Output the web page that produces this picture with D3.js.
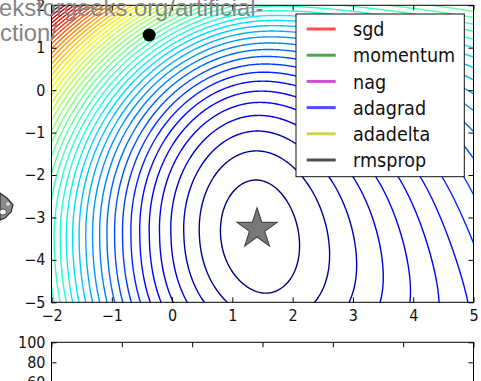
<!DOCTYPE html>
<html>
<head>
<meta charset="utf-8">
<script src="https://cdn.jsdelivr.net/npm/d3@7"></script>
<style>
  body { margin: 0; background: #fff; }
  svg { display: block; }
</style>
</head>
<body>
<svg id="chart" width="481" height="381"></svg>
<script>
// ---- axis ticks ----
const xTicks = [-2, -1, 0, 1, 2, 3, 4, 5];
const yTicks = [-5, -4, -3, -2, -1, 0, 1, 2];
const lossTicks = [100, 80, 60];
const lossStepTicks = [0, 20, 40, 60, 80, 100, 120];

// ---- legend ----
const optimizers = ["sgd", "momentum", "nag", "adagrad", "adadelta", "rmsprop"];
const optimizerColors = ["#ff4d4d", "#4da64d", "#d24dd2", "#4d4dff", "#d2d24d", "#4d4d4d"];

// ---- points on the surface ----
const minimumPoint = [1.41, -3.27];   // star
const startPoint = [-0.38, 1.30];     // current position of the optimizers

// ---- loss surface parameters ----
const surfaceCenter = [1.43, -3.44];
const curvature = 3.6;        // curvature along x at the valley floor
const rightSlope = 2.7;       // asymptotic slope towards +x
const leftSlope = 18;         // asymptotic slope towards -x
const yQuad = 0.3866, yQuart = 0.00873;
const crossLin = 0.22, crossQuad = 0.08, lowerLeftFade = 1.2;
const leftLift = 0.07;
const levelStart = 0.7, levelStep = 1, levelCount = 45;

// ---- jet colormap anchors ----
const jetRed   = [[0, 0], [0.35, 0], [0.66, 1], [0.89, 1], [1, 0.5]];
const jetGreen = [[0, 0], [0.125, 0], [0.375, 1], [0.64, 1], [0.91, 0], [1, 0]];
const jetBlue  = [[0, 0.5], [0.11, 1], [0.34, 1], [0.65, 0], [1, 0]];

const channel = pts => d3.scaleLinear(pts.map(p => p[0]), pts.map(p => p[1])).clamp(true);
const jr = channel(jetRed), jg = channel(jetGreen), jb = channel(jetBlue);
const jet = t => d3.rgb(255 * jr(t), 255 * jg(t), 255 * jb(t)).formatHex();

function huber(d, m) {
  return m * m / curvature * (Math.sqrt(1 + (curvature * d / m) ** 2) - 1);
}
// loss surface: a skewed valley that climbs fastest towards the upper-left corner
function surface(px, py) {
  const dx = px - surfaceCenter[0], dy = py - surfaceCenter[1];
  let f = huber(dx, dx >= 0 ? rightSlope : leftSlope);
  f += yQuad * dy * dy + yQuart * dy ** 4;
  let cross = dx * (crossLin * dy - crossQuad * dy * dy);
  if (dx < 0 && dy < 0) cross *= Math.exp(-((dx / lowerLeftFade) ** 2));
  f += cross;
  if (dx < 0) f += leftLift * dx * dx * Math.max(dy, 0);
  return f;
}

// ---- layout ----
const plot = { left: 51.5, right: 473.5, top: 5.3, bottom: 302.3 };
const lossPlot = { left: 51.5, right: 473.5, top: 342.3, bottom: 442.3 };
const tickStretch = "scale(1,1.08)";
const legendStretch = "scale(1,1.12)";

const x = d3.scaleLinear().domain(d3.extent(xTicks)).range([plot.left, plot.right]);
const y = d3.scaleLinear().domain(d3.extent(yTicks)).range([plot.bottom, plot.top]);
const xLoss = d3.scaleLinear().domain(d3.extent(lossStepTicks)).range([lossPlot.left, lossPlot.right]);
const yLoss = d3.scaleLinear().domain([0, 100]).range([lossPlot.bottom, lossPlot.top]);

const svg = d3.select("#chart");
svg.append("defs").append("clipPath").attr("id", "plot-clip")
  .append("rect")
  .attr("x", plot.left).attr("y", plot.top)
  .attr("width", plot.right - plot.left).attr("height", plot.bottom - plot.top);

// ---- contour lines of the surface ----
const pad = 6;
const gx0 = Math.floor(plot.left - pad), gy0 = Math.floor(plot.top - pad);
const nx = Math.ceil(plot.right + pad) - gx0, ny = Math.ceil(plot.bottom + pad) - gy0;
const grid = new Float64Array(nx * ny);
for (let j = 0; j < ny; j++) {
  const vy = y.invert(gy0 + j + 0.5);
  for (let i = 0; i < nx; i++) {
    grid[j * nx + i] = surface(x.invert(gx0 + i + 0.5), vy);
  }
}
const levels = d3.range(levelCount).map(k => levelStart + k * levelStep);
const contours = d3.contours().size([nx, ny]).thresholds(levels)(grid);

svg.append("g").attr("clip-path", "url(#plot-clip)")
  .append("g").attr("transform", `translate(${gx0},${gy0})`)
  .selectAll("path").data(contours).join("path")
  .attr("d", d3.geoPath())
  .attr("fill", "none")
  .attr("stroke", d => jet((d.value - levelStart) / (levelStep * (levelCount - 1))))
  .attr("stroke-width", 1.4)
  .attr("stroke-linejoin", "round");

// ---- minimum and current point ----
svg.append("path")
  .attr("d", d3.symbol(d3.symbolStar, 495)())
  .attr("transform", `translate(${x(minimumPoint[0])},${y(minimumPoint[1])})`)
  .attr("fill", "#787878").attr("stroke", "#4a4a4a").attr("stroke-width", 1.2);

svg.append("circle")
  .attr("cx", x(startPoint[0])).attr("cy", y(startPoint[1])).attr("r", 6.5)
  .attr("fill", "#000");

// ---- axes ----
const fmt = d3.format("d");
function styleAxis(g, labels) {
  g.select(".domain").remove();
  g.selectAll("line").attr("stroke", "#000").attr("stroke-width", 1);
  g.selectAll("text")
    .attr("font-family", "DejaVu Sans, sans-serif").attr("font-size", 14.4)
    .attr("fill", "#111").attr("transform", tickStretch);
  if (!labels) g.selectAll("text").remove();
}

svg.append("g").attr("transform", `translate(0,${plot.bottom})`)
  .call(d3.axisBottom(x).tickValues(xTicks).tickSizeInner(-5).tickSizeOuter(0).tickPadding(7.5).tickFormat(fmt))
  .call(styleAxis, true);
svg.append("g").attr("transform", `translate(0,${plot.top})`)
  .call(d3.axisTop(x).tickValues(xTicks).tickSizeInner(-5).tickSizeOuter(0))
  .call(styleAxis, false);
svg.append("g").attr("transform", `translate(${plot.left},0)`)
  .call(d3.axisLeft(y).tickValues(yTicks).tickSizeInner(-5).tickSizeOuter(0).tickPadding(6).tickFormat(fmt))
  .call(styleAxis, true);
svg.append("g").attr("transform", `translate(${plot.right},0)`)
  .call(d3.axisRight(y).tickValues(yTicks).tickSizeInner(-5).tickSizeOuter(0))
  .call(styleAxis, false);

svg.append("rect")
  .attr("x", plot.left).attr("y", plot.top)
  .attr("width", plot.right - plot.left).attr("height", plot.bottom - plot.top)
  .attr("fill", "none").attr("stroke", "#000").attr("stroke-width", 1);

// ---- legend ----
const legend = svg.append("g").attr("transform", "translate(296,14)");
legend.append("rect")
  .attr("width", 168.3).attr("height", 162.7)
  .attr("fill", "#fff").attr("stroke", "#111").attr("stroke-width", 1);
const rows = legend.selectAll("g.row").data(optimizers).join("g")
  .attr("class", "row")
  .attr("transform", (d, i) => `translate(0,${15 + i * 26.2})`);
rows.append("line")
  .attr("x1", 10.7).attr("x2", 39.7)
  .attr("stroke", (d, i) => optimizerColors[i]).attr("stroke-width", 3);
rows.append("g").attr("transform", "translate(57,0)")
  .append("text")
  .attr("transform", legendStretch)
  .attr("dy", "0.36em")
  .attr("font-family", "DejaVu Sans, sans-serif").attr("font-size", 17.6)
  .attr("fill", "#111")
  .text(d => d);

// ---- loss panel ----
svg.append("g").attr("transform", `translate(${lossPlot.left},0)`)
  .call(d3.axisLeft(yLoss).tickValues(lossTicks).tickSizeInner(-5).tickSizeOuter(0).tickPadding(6).tickFormat(fmt))
  .call(styleAxis, true);
svg.append("g").attr("transform", `translate(${lossPlot.right},0)`)
  .call(d3.axisRight(yLoss).tickValues(lossTicks).tickSizeInner(-5).tickSizeOuter(0))
  .call(styleAxis, false);
svg.append("g").attr("transform", `translate(0,${lossPlot.top})`)
  .call(d3.axisTop(xLoss).tickValues(lossStepTicks).tickSizeInner(-5).tickSizeOuter(0))
  .call(styleAxis, false);
svg.append("rect")
  .attr("x", lossPlot.left).attr("y", lossPlot.top)
  .attr("width", lossPlot.right - lossPlot.left).attr("height", lossPlot.bottom - lossPlot.top)
  .attr("fill", "none").attr("stroke", "#000").attr("stroke-width", 1);

// ---- partial illustration at the left edge ----
const edge = svg.append("g");
edge.append("path")
  .attr("d", "M0,193 L7,198 L13,205 L11,212 L5,218 L0,220 Z")
  .attr("fill", "#8a8a8a").attr("stroke", "#333").attr("stroke-width", 1.3);
edge.append("ellipse").attr("cx", 3).attr("cy", 212).attr("rx", 3.5).attr("ry", 3).attr("fill", "#f4f4f4")
  .attr("stroke", "#333").attr("stroke-width", 0.8);
edge.append("ellipse").attr("cx", 8).attr("cy", 204).attr("rx", 1.8).attr("ry", 1.8).attr("fill", "#e0e0e0");

// ---- page address overlay ----
const overlay = svg.append("g")
  .attr("font-family", "Liberation Sans, Arial, sans-serif")
  .attr("font-size", 23.8).attr("fill", "#858585");
overlay.append("text").attr("x", -1).attr("y", 16).text("eksforgeeks.org/artificial-");
overlay.append("text").attr("x", 0).attr("y", 41).text("ction/");
</script>
</body>
</html>
